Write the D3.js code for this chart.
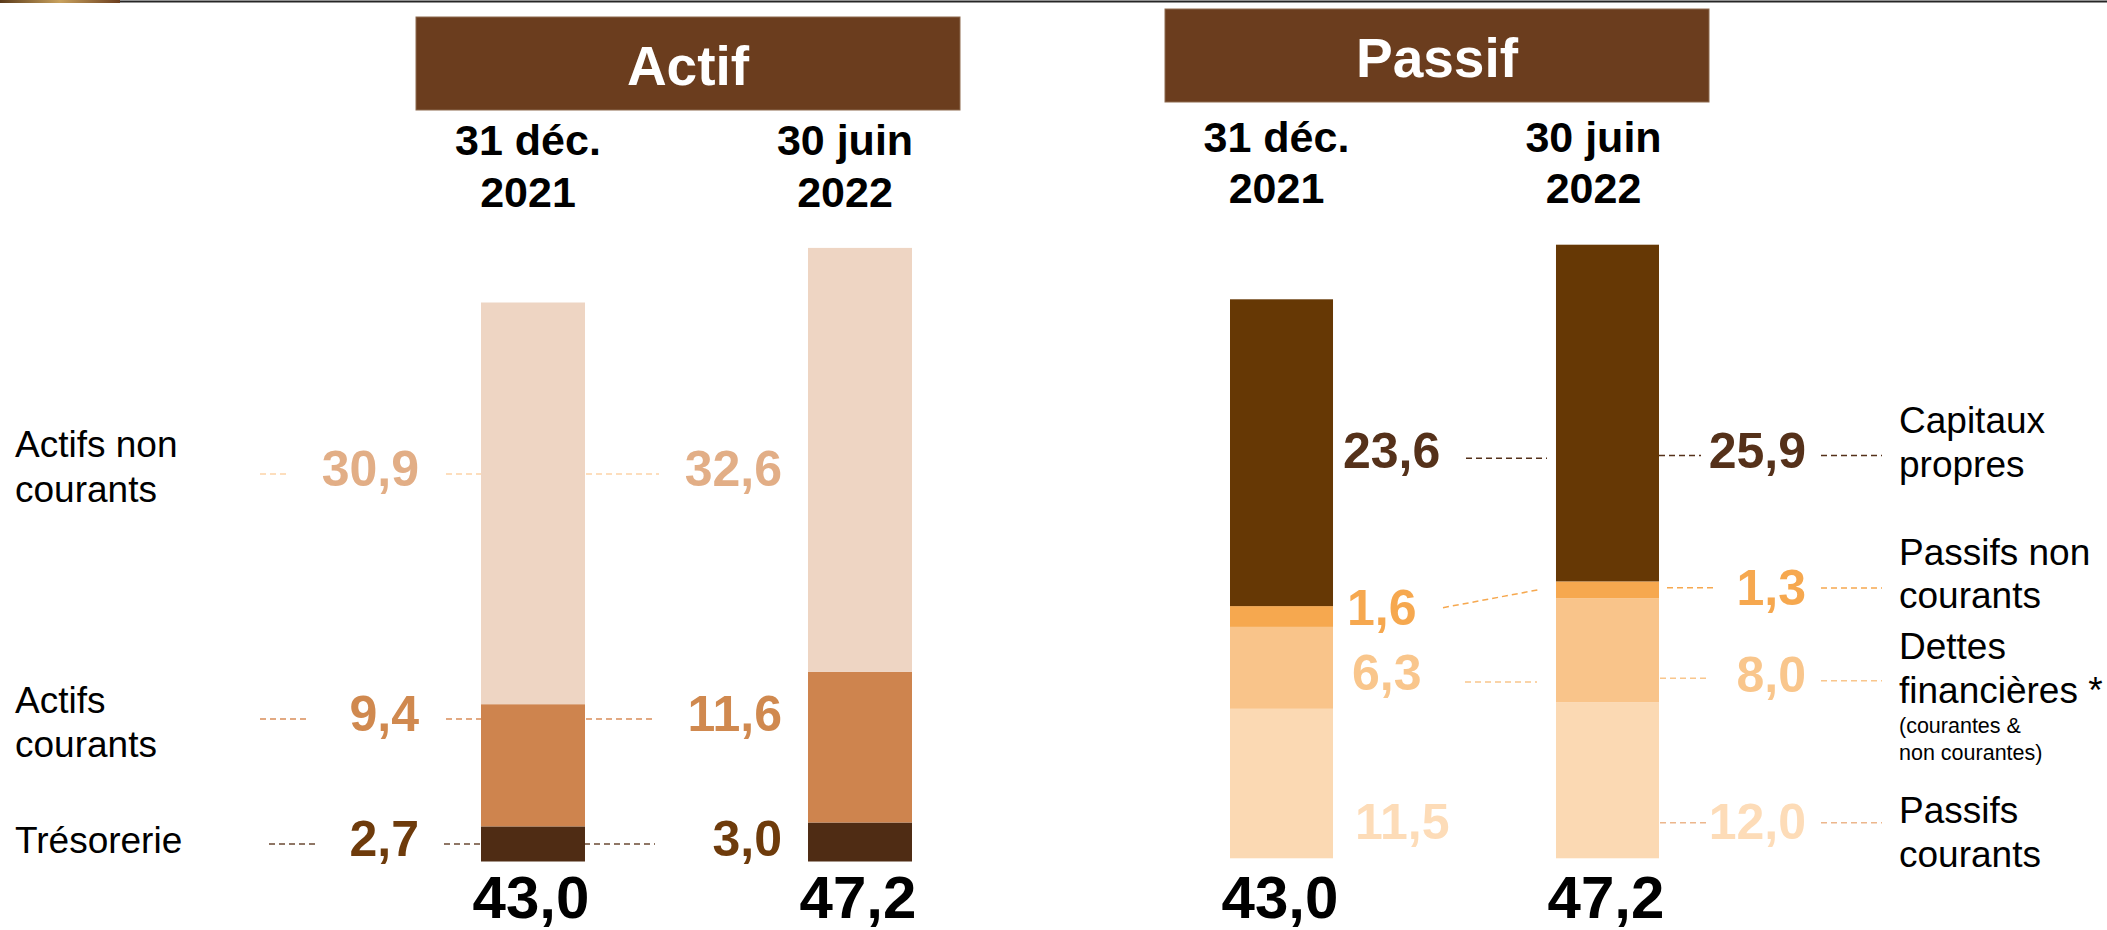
<!DOCTYPE html>
<html><head><meta charset="utf-8">
<script src="https://cdn.jsdelivr.net/npm/d3@7"></script>
<style>
body{margin:0;background:#fff}
svg{display:block;font-family:"Liberation Sans",Arial,Helvetica,sans-serif}
</style>
</head><body>
<svg id="c" width="2107" height="930"></svg>
<script>
// ---------- DATA ----------
const periods = ["2021", "2022"];
const periodLabels = [["31 déc.", "2021"], ["30 juin", "2022"]];

const actifSeries = ["Trésorerie", "Actifs courants", "Actifs non courants"];
const actif2021 = [2.7, 9.4, 30.9];
const actif2022 = [3.0, 11.6, 32.6];
const actifTotals = [43.0, 47.2];

const passifSeries = ["Passifs courants", "Dettes financières", "Passifs non courants", "Capitaux propres"];
const passif2021 = [11.5, 6.3, 1.6, 23.6];
const passif2022 = [12.0, 8.0, 1.3, 25.9];
const passifTotals = [43.0, 47.2];

// ---------- STYLE ----------
const actifFill = ["#4F2C14", "#CE844E", "#EED5C3"];
const actifText = ["#6E3B0B", "#D0894F", "#E2AE86"];
const actifDash = ["#6B4A33", "#D98D5A", "#FDD3A8"];
const passifFill = ["#FBD9B3", "#F9C48A", "#F6A84F", "#663805"];
const passifText = ["#FDDCB8", "#F9C68C", "#F6A84F", "#55311A"];
const passifDash = ["#ECB68C", "#F9C68C", "#F6A84F", "#55311A"];

const fr = d3.formatLocale({decimal: ",", thousands: " ", grouping: [3], currency: ["", " €"]});
const fmt = fr.format(".1f");
const K = 13.0; // px per unit
const svg = d3.select("#c");

// top rule
const g0 = svg.append("defs").append("linearGradient").attr("id", "lg");
g0.append("stop").attr("offset", "0%").attr("stop-color", "#5a3a1a");
g0.append("stop").attr("offset", "50%").attr("stop-color", "#c9a25e");
g0.append("stop").attr("offset", "100%").attr("stop-color", "#6b3e1e");
svg.append("rect").attr("x", 0).attr("y", 0).attr("width", 120).attr("height", 3).attr("fill", "url(#lg)");
svg.append("line").attr("x1", 120).attr("x2", 2107).attr("y1", 1.5).attr("y2", 1.5)
  .attr("stroke", "#262626").attr("stroke-width", 2);

function dash(g, x1, y1, x2, y2, color) {
  g.append("line").attr("x1", x1).attr("y1", y1).attr("x2", x2).attr("y2", y2)
    .attr("stroke", color).attr("stroke-width", 1.5).attr("stroke-dasharray", "6,4");
}
function lines(g, x, ys, txt, size, anchor) {
  txt.forEach((t, i) => g.append("text").attr("x", x).attr("y", ys[i])
    .attr("font-size", size).attr("text-anchor", anchor || "start").attr("fill", "#000").text(t));
}
function header(g, x, y, w, h, label, ty) {
  g.append("rect").attr("x", x).attr("y", y).attr("width", w).attr("height", h)
    .attr("fill", "#6B3D1E").attr("stroke", "#8d6a4f").attr("stroke-width", 1);
  g.append("text").attr("x", x + w / 2).attr("y", ty).attr("text-anchor", "middle")
    .attr("font-size", 55).attr("font-weight", "bold").attr("fill", "#fff").text(label);
}
function buildRows(series, a, b) {
  return periods.map((p, i) => {
    const r = {period: p};
    series.forEach((s, j) => r[s] = (i === 0 ? a : b)[j]);
    return r;
  });
}

// ================= ACTIF =================
{
  const g = svg.append("g");
  const base = 861.5;
  const x = d3.scaleBand().domain(periods).range([481, 912]).paddingInner(0.682);
  const y = d3.scaleLinear().domain([0, 50]).range([base, base - 50 * K]);
  header(g, 416, 17, 544, 93, "Actif", 85);
  periods.forEach((p, i) => {
    const cx = x(p) + x.bandwidth() / 2 - [5, 15][i];
    [155, 207].forEach((by, k) => g.append("text").attr("x", cx).attr("y", by)
      .attr("text-anchor", "middle").attr("font-size", 43).attr("font-weight", "bold").text(periodLabels[i][k]));
  });
  const layout = [
    {line: 844, left: [269, 315], mid: [444, 655], cat: ["Trésorerie"], catY: [853.3]},
    {line: 719, left: [260, 310], mid: [446, 653], cat: ["Actifs", "courants"], catY: [713.3, 757.3]},
    {line: 474, left: [260, 287], mid: [446, 659], cat: ["Actifs non", "courants"], catY: [457.3, 501.7]}
  ];
  const vals = [actif2021, actif2022];
  layout.forEach((L, j) => {
    dash(g, L.left[0], L.line, L.left[1], L.line, actifDash[j]);
    dash(g, L.mid[0], L.line, L.mid[1], L.line, actifDash[j]);
    lines(g, 15, L.catY, L.cat, 37);
    [419, 782].forEach((tx, i) => g.append("text").attr("x", tx).attr("y", L.line + 12)
      .attr("text-anchor", "end").attr("font-size", 50).attr("font-weight", "bold")
      .attr("fill", actifText[j]).text(fmt(vals[i][j])));
  });
  const stack = d3.stack().keys(actifSeries)(buildRows(actifSeries, actif2021, actif2022));
  stack.forEach((layer, j) => {
    g.selectAll(null).data(layer).join("rect")
      .attr("x", d => x(d.data.period)).attr("width", x.bandwidth())
      .attr("y", d => y(d[1])).attr("height", d => y(d[0]) - y(d[1]))
      .attr("fill", actifFill[j]);
  });
  periods.forEach((p, i) => g.append("text").attr("x", x(p) + x.bandwidth() / 2 - 2).attr("y", 917.5)
    .attr("text-anchor", "middle").attr("font-size", 60).attr("font-weight", "bold").text(fmt(actifTotals[i])));
}

// ================= PASSIF =================
{
  const g = svg.append("g");
  const base = 858.3;
  const x = d3.scaleBand().domain(periods).range([1230, 1659]).paddingInner(0.684);
  const y = d3.scaleLinear().domain([0, 50]).range([base, base - 50 * K]);
  header(g, 1165, 9, 544, 93, "Passif", 76.7);
  periods.forEach((p, i) => {
    const cx = x(p) + x.bandwidth() / 2 - [5, 14][i];
    [151.7, 203.3].forEach((by, k) => g.append("text").attr("x", cx).attr("y", by)
      .attr("text-anchor", "middle").attr("font-size", 43).attr("font-weight", "bold").text(periodLabels[i][k]));
  });
  const layout = [
    {c1: null, t1: 839.3, x1: 1355, c2L: [1660, 1710, 822.7], c2R: [1821, 1882, 822.7], t2: 839.3,
      cat: ["Passifs", "courants"], catY: [823.3, 866.7]},
    {c1: [1465, 682, 1537, 682], t1: 690, x1: 1352, c2L: [1660, 1710, 678.3], c2R: [1821, 1882, 680.7], t2: 691.7,
      cat: ["Dettes", "financières *"], catY: [659, 703.3], small: ["(courantes &", "non courantes)"], smallY: [733.3, 760]},
    {c1: [1443, 607.7, 1541, 589.3], t1: 625, x1: 1347, c2L: [1667, 1717, 587.7], c2R: [1821, 1882, 588], t2: 605,
      cat: ["Passifs non", "courants"], catY: [565, 608.3]},
    {c1: [1466, 458.3, 1547, 458.3], t1: 468.3, x1: 1343, c2L: [1659, 1701, 455.5], c2R: [1821, 1882, 455.5], t2: 468,
      cat: ["Capitaux", "propres"], catY: [433.3, 476.7]}
  ];
  layout.forEach((L, j) => {
    if (L.c1) dash(g, L.c1[0], L.c1[1], L.c1[2], L.c1[3], passifDash[j]);
    dash(g, L.c2L[0], L.c2L[2], L.c2L[1], L.c2L[2], passifDash[j]);
    dash(g, L.c2R[0], L.c2R[2], L.c2R[1], L.c2R[2], passifDash[j]);
    lines(g, 1899, L.catY, L.cat, 37);
    if (L.small) lines(g, 1899, L.smallY, L.small, 21.5);
    g.append("text").attr("x", L.x1).attr("y", L.t1).attr("font-size", 50).attr("font-weight", "bold")
      .attr("fill", passifText[j]).text(fmt(passif2021[j]));
    g.append("text").attr("x", 1806).attr("y", L.t2).attr("text-anchor", "end").attr("font-size", 50)
      .attr("font-weight", "bold").attr("fill", passifText[j]).text(fmt(passif2022[j]));
  });
  const stack = d3.stack().keys(passifSeries)(buildRows(passifSeries, passif2021, passif2022));
  stack.forEach((layer, j) => {
    g.selectAll(null).data(layer).join("rect")
      .attr("x", d => x(d.data.period)).attr("width", x.bandwidth())
      .attr("y", d => y(d[1])).attr("height", d => y(d[0]) - y(d[1]))
      .attr("fill", passifFill[j]);
  });
  periods.forEach((p, i) => g.append("text").attr("x", x(p) + x.bandwidth() / 2 - 1.5).attr("y", 917.5)
    .attr("text-anchor", "middle").attr("font-size", 60).attr("font-weight", "bold").text(fmt(passifTotals[i])));
}
</script>
</body></html>
